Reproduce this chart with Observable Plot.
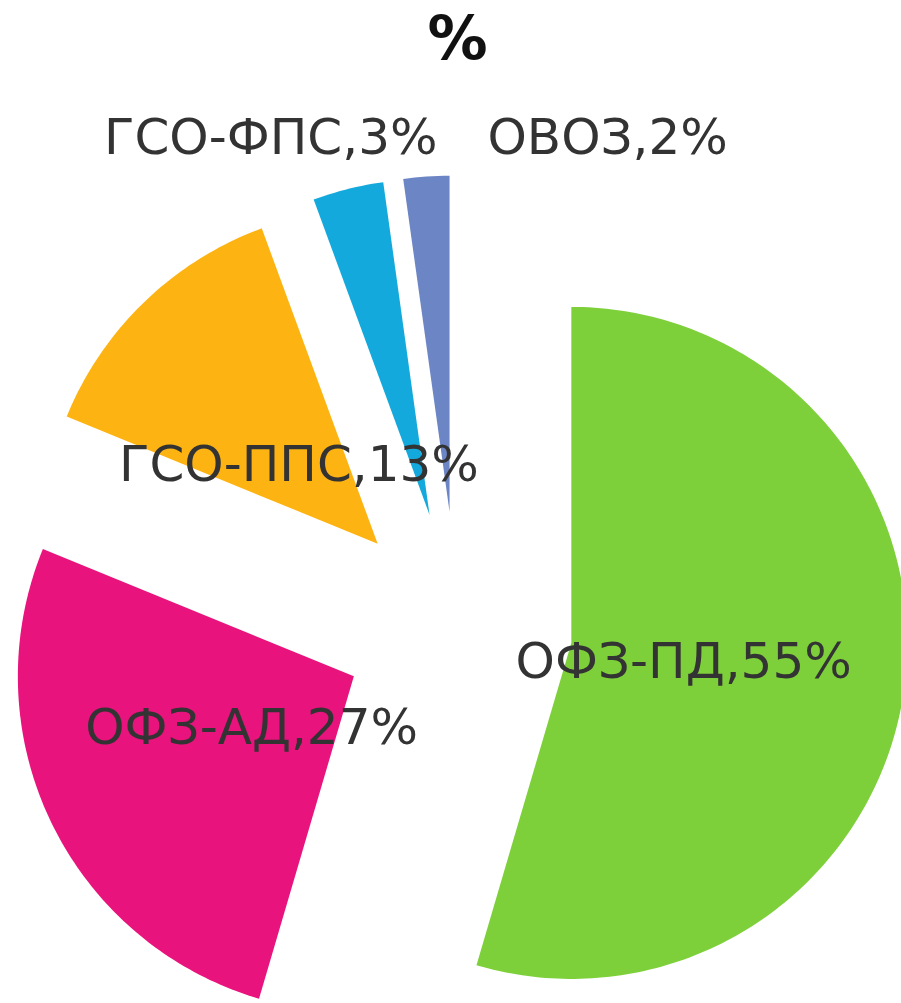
<!DOCTYPE html>
<html>
<head>
<meta charset="utf-8">
<script src="https://cdn.jsdelivr.net/npm/d3@7"></script>
<script src="https://cdn.jsdelivr.net/npm/@observablehq/plot@0.6"></script>
<style>
  html, body { margin: 0; padding: 0; background: #ffffff; }
  #chart svg { display: block; }
</style>
</head>
<body>
<div id="chart"></div>
<script>
// ---- data ----
const title = "%";
const categories = ["ОФЗ-ПД", "ОФЗ-АД", "ГСО-ППС", "ГСО-ФПС", "ОВОЗ"];
const shares = [54.5, 26.6, 13.2, 3.4, 2.2];
const colors = ["#7ed03b", "#e8137c", "#fdb412", "#14a9dc", "#6c85c5"];
const labelPlacement = ["inside", "inside", "inside", "outsideLeft", "outsideRight"];

// ---- layout ----
const W = 901, H = 1003;
const CX = 457, CY = 626, R = 336;   // pie centre / radius in px
const explode = 115 / R;              // explosion as fraction of radius
const insideR = 0.68, outsideR = 1.455;
const font = "DejaVu Sans, Verdana, sans-serif";

// ---- geometry derived from data ----
const total = d3.sum(shares);
let acc = 0;
const slices = categories.map((name, i) => {
  const a0 = acc / total * 2 * Math.PI;
  acc += shares[i];
  const a1 = acc / total * 2 * Math.PI;
  return {name, value: shares[i], a0, a1, mid: (a0 + a1) / 2, placement: labelPlacement[i]};
});

const polyRows = [];
for (const s of slices) {
  const ox = explode * Math.sin(s.mid), oy = explode * Math.cos(s.mid);
  polyRows.push({name: s.name, x: ox, y: oy});
  const n = Math.max(4, Math.ceil((s.a1 - s.a0) / (Math.PI / 180)));
  for (let k = 0; k <= n; k++) {
    const a = s.a0 + (s.a1 - s.a0) * k / n;
    polyRows.push({name: s.name, x: ox + Math.sin(a), y: oy + Math.cos(a)});
  }
}

const labelRows = slices.map(s => {
  const text = `${s.name},${Math.round(s.value)}%`;
  if (s.placement === "inside") {
    return {text, x: insideR * Math.sin(s.mid), y: insideR * Math.cos(s.mid), anchor: "middle"};
  }
  return {text, x: 0, y: outsideR, anchor: s.placement === "outsideLeft" ? "end" : "start"};
});

const textStyle = {fontSize: 50, fill: "#333333", fontFamily: font};

const chart = Plot.plot({
  width: W,
  height: H,
  margin: 0,
  style: {fontFamily: font, background: "#ffffff"},
  x: {domain: [-CX / R, (W - CX) / R], axis: null},
  y: {domain: [-(H - CY) / R, CY / R], axis: null},
  color: {domain: categories, range: colors},
  marks: [
    Plot.line(polyRows, {x: "x", y: "y", z: "name", fill: "name", stroke: "none", curve: "linear-closed", clip: true}),
    Plot.text(labelRows.filter(d => d.anchor === "middle"), {
      x: "x", y: "y", text: "text", textAnchor: "middle", dy: 3, ...textStyle
    }),
    Plot.text(labelRows.filter(d => d.anchor === "end"), {
      x: "x", y: "y", text: "text", textAnchor: "end", dx: -20, ...textStyle
    }),
    Plot.text(labelRows.filter(d => d.anchor === "start"), {
      x: "x", y: "y", text: "text", textAnchor: "start", dx: 30, ...textStyle
    }),
    Plot.text([title], {
      x: () => 0, frameAnchor: "top", dy: 16, text: d => d,
      fontSize: 60, fontWeight: "bold", fill: "#111111", fontFamily: font
    })
  ]
});
document.getElementById("chart").appendChild(chart);
</script>
</body>
</html>
